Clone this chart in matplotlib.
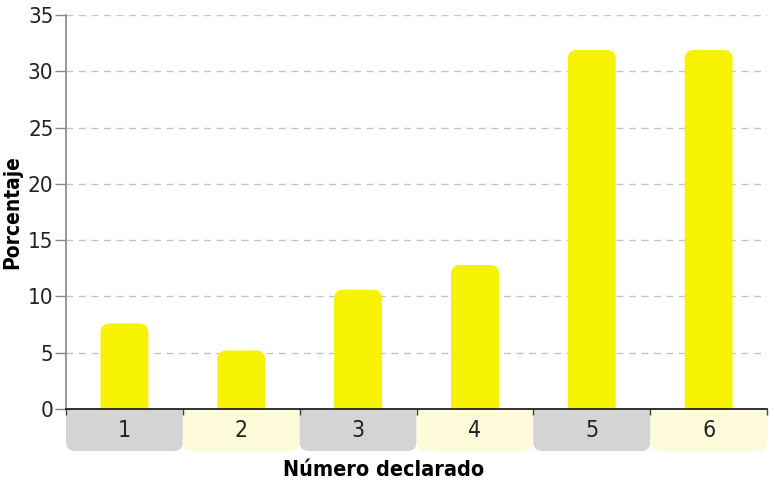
import matplotlib
matplotlib.use("Agg")
import matplotlib.pyplot as plt
from matplotlib.patches import PathPatch
from matplotlib.path import Path
from matplotlib.transforms import blended_transform_factory

plt.rcParams['font.family'] = ['DejaVu Sans']
plt.rcParams['font.stretch'] = 'condensed'

categories = ['1', '2', '3', '4', '5', '6']
percent = [7.6, 5.2, 10.6, 12.8, 31.9, 31.9]
y_ticks = [0, 5, 10, 15, 20, 25, 30, 35]

BAR_COLOR = '#f7f200'
BOX_COLORS = ['#d4d4d4', '#fdfbd9']


def rounded_rect(x0, y0, w, h, rx, ry, top=True):
    """Rectangle with two rounded corners (top or bottom), as a Path."""
    x1, y1 = x0 + w, y0 + h
    C3, L, M = Path.CURVE3, Path.LINETO, Path.MOVETO
    if top:
        verts = [(x0, y0), (x1, y0), (x1, y1 - ry), (x1, y1), (x1 - rx, y1),
                 (x0 + rx, y1), (x0, y1), (x0, y1 - ry), (x0, y0)]
    else:
        verts = [(x0, y1), (x0, y0 + ry), (x0, y0), (x0 + rx, y0),
                 (x1 - rx, y0), (x1, y0), (x1, y0 + ry), (x1, y1), (x0, y1)]
    codes = [M, L, L, C3, C3, L, C3, C3, Path.CLOSEPOLY] if top else \
            [M, L, C3, C3, L, C3, C3, L, Path.CLOSEPOLY]
    return Path(verts, codes)


fig = plt.figure(figsize=(7.74, 4.86), dpi=100)
ax = fig.add_axes([0.0853, 0.1584, 0.9057, 0.8106])

x = list(range(len(categories)))
bars = ax.bar(x, percent, width=0.41, color=BAR_COLOR, zorder=3)

ax.set_xlim(-0.5, len(categories) - 0.5)
ax.set_ylim(0, 35)

# radius of the rounded corners, in pixels
RAD = 9
fig.canvas.draw()
px_x = ax.bbox.width / (len(categories))
px_y = ax.bbox.height / 35.0
rx, ry = RAD / px_x, RAD / px_y

# replace the plain bars by bars with rounded tops
for b in bars:
    b.set_visible(False)
    ax.add_patch(PathPatch(rounded_rect(b.get_x(), 0, b.get_width(), b.get_height(), rx, ry),
                           fc=BAR_COLOR, ec='none', zorder=3))

# category boxes under the axis
trans = blended_transform_factory(ax.transData, ax.transAxes)
box_h = 42 / ax.bbox.height
ry_ax = RAD / ax.bbox.height
for i, lab in enumerate(categories):
    col = BOX_COLORS[i % 2]
    ax.add_patch(PathPatch(rounded_rect(i - 0.5, -box_h, 1.0, box_h, rx, ry_ax, top=False),
                           transform=trans, fc=col, ec='none', clip_on=False, zorder=1))
    ax.text(i, -box_h / 2, lab, transform=trans, ha='center', va='center',
            fontsize=16.5, color='#222222', clip_on=False)

ax.set_xticks([i - 0.5 for i in range(len(categories) + 1)])
ax.set_xticklabels([])
ax.tick_params(axis='x', direction='out', length=4, width=1, color='#444444')

ax.set_yticks(y_ticks)
ax.tick_params(axis='y', length=8, width=1, color='#888888', labelsize=16,
               labelcolor='#222222', pad=1)
ax.yaxis.grid(True, linestyle=(0, (5, 4)), color='#c4c4c4', linewidth=1)
# axis above the boxes, below the bars
ax.set_axisbelow('line')

for s in ['top', 'right']:
    ax.spines[s].set_visible(False)
ax.spines['left'].set_color('#888888')
ax.spines['left'].set_linewidth(1.2)
ax.spines['bottom'].set_color('#111111')
ax.spines['bottom'].set_linewidth(1.2)
ax.spines['bottom'].set_zorder(4)

ax.set_ylabel('Porcentaje', fontsize=15, fontweight='bold')
ax.yaxis.set_label_coords(-0.062, 0.5)
fig.text(0.496, 0.033, 'Número declarado', ha='center', va='center',
         fontsize=15.5, fontweight='bold')

fig.savefig('out.png', dpi=100)
